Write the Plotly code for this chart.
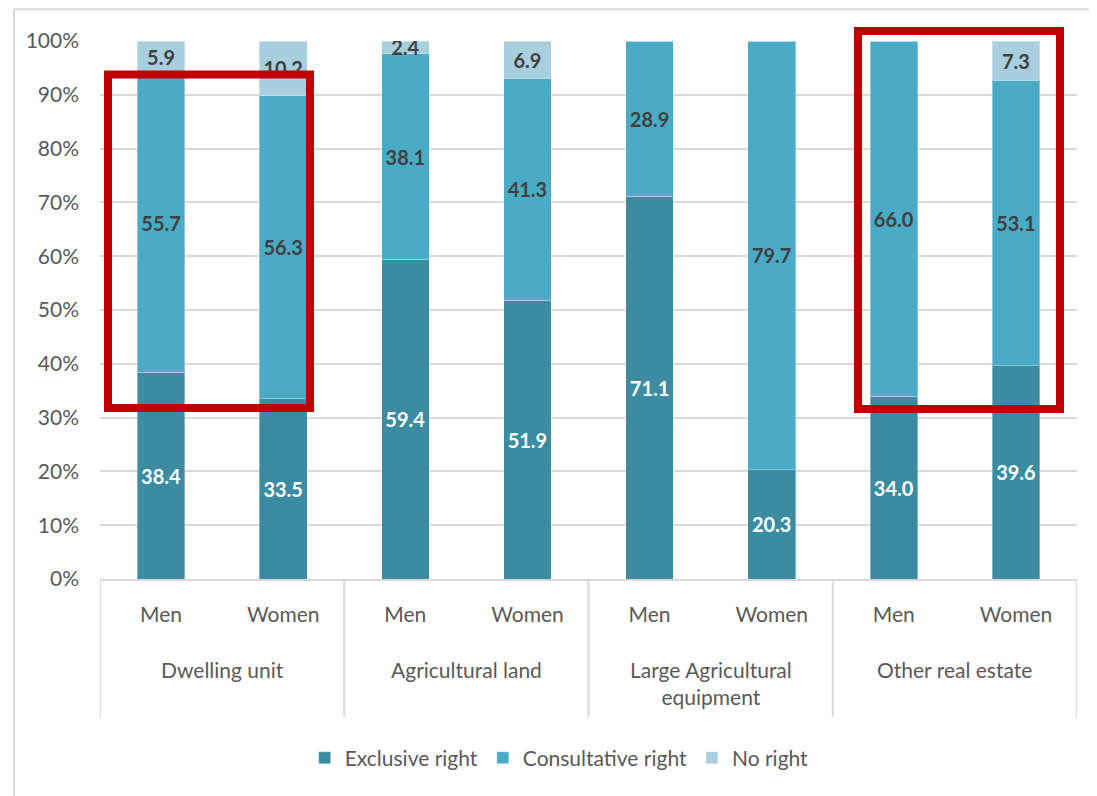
import plotly.graph_objects as go

groups = ["Dwelling unit", "Agricultural land", "Large Agricultural<br>equipment", "Other real estate"]
sexes = ["Men", "Women", "Men", "Women", "Men", "Women", "Men", "Women"]
group_of_bar = [0, 0, 1, 1, 2, 2, 3, 3]

exclusive = [38.4, 33.5, 59.4, 51.9, 71.1, 20.3, 34.0, 39.6]
consultative = [55.7, 56.3, 38.1, 41.3, 28.9, 79.7, 66.0, 53.1]
no_right = [5.9, 10.2, 2.4, 6.9, 0, 0, 0, 7.3]

y_ticks = [0, 10, 20, 30, 40, 50, 60, 70, 80, 90, 100]
y_tick_labels = [f"{v}%" for v in y_ticks]

series = [
    ("Exclusive right", exclusive, "#3b8ba1", "#ffffff"),
    ("Consultative right", consultative, "#4aabc6", "#404040"),
    ("No right", no_right, "#a8cfde", "#404040"),
]

FONT = "Lato"
GREY = "#595959"
LINE = "#d9d9d9"

xpos = list(range(len(sexes)))

fig = go.Figure()
for name, vals, col, tcol in series:
    fig.add_trace(go.Bar(
        name=name,
        x=xpos,
        y=vals,
        width=0.39,
        text=[f"{v:.1f}" if v > 0 else "" for v in vals],
        texttemplate="%{text}",
        textposition="inside",
        insidetextanchor="middle",
        textangle=0,
        constraintext="none",
        textfont=dict(family=FONT, size=20, color=tcol, weight=700),
        marker=dict(color=col, line=dict(color="rgba(255,255,255,0.35)", width=1)),
        hoverinfo="skip",
    ))

fig.update_layout(
    barmode="stack",
    barnorm="percent",
    width=1089, height=788,
    margin=dict(l=92, r=20, t=33, b=217),
    paper_bgcolor="white",
    plot_bgcolor="white",
    font=dict(family=FONT, size=21, color=GREY),
    legend=dict(orientation="h", x=0.470, xanchor="center", y=-0.333, yanchor="middle",
                font=dict(family=FONT, size=21, color=GREY), itemclick=False,
                traceorder="normal"),
    showlegend=True,
)

fig.update_yaxes(
    range=[0, 100], tickvals=y_ticks, ticktext=y_tick_labels,
    showgrid=True, gridcolor=LINE, gridwidth=2,
    zeroline=False, showline=False, automargin=False,
    tickfont=dict(family=FONT, size=21, color=GREY),
    ticklabelstandoff=20,
)
fig.update_xaxes(
    range=[-0.5, len(sexes) - 0.5],
    tickvals=xpos, ticktext=sexes,
    showgrid=False, zeroline=False,
    showline=True, linecolor=LINE, linewidth=2,
    tickfont=dict(family=FONT, size=21, color=GREY),
    ticks="", ticklabelstandoff=16, automargin=False,
)

# Group labels and dividers of the two-level category axis
n_groups = len(groups)
for g, label in enumerate(groups):
    members = [i for i, gb in enumerate(group_of_bar) if gb == g]
    center = sum(members) / len(members)
    fig.add_annotation(x=center, xref="x", y=-0.141, yref="paper", yanchor="top",
                       text=label, showarrow=False,
                       font=dict(family=FONT, size=21, color=GREY))
    fig.add_shape(type="line", xref="x", yref="paper", x0=members[0] - 0.5, x1=members[0] - 0.5,
                  y0=0, y1=-0.2565, line=dict(color=LINE, width=2))
    if g == n_groups - 1:
        fig.add_shape(type="line", xref="x", yref="paper", x0=members[-1] + 0.5, x1=members[-1] + 0.5,
                      y0=0, y1=-0.2565, line=dict(color=LINE, width=2))

# Outer chart frame (partly cropped in the reference)
fig.add_shape(type="line", xref="paper", yref="paper", x0=-0.088, x1=-0.088, y0=1.059, y1=-0.45,
              line=dict(color=LINE, width=2))
fig.add_shape(type="line", xref="paper", yref="paper", x0=-0.088, x1=1.05, y0=1.059, y1=1.059,
              line=dict(color=LINE, width=2))

# Red highlight boxes
fig.add_shape(type="rect", xref="paper", yref="paper", x0=0.0082, x1=0.2149, y0=0.3178, y1=0.9377,
              line=dict(color="#c00000", width=8), layer="above")
fig.add_shape(type="rect", xref="paper", yref="paper", x0=0.7758, x1=0.9826, y0=0.316, y1=1.0186,
              line=dict(color="#c00000", width=8), layer="above")

fig.write_html("out.html")
